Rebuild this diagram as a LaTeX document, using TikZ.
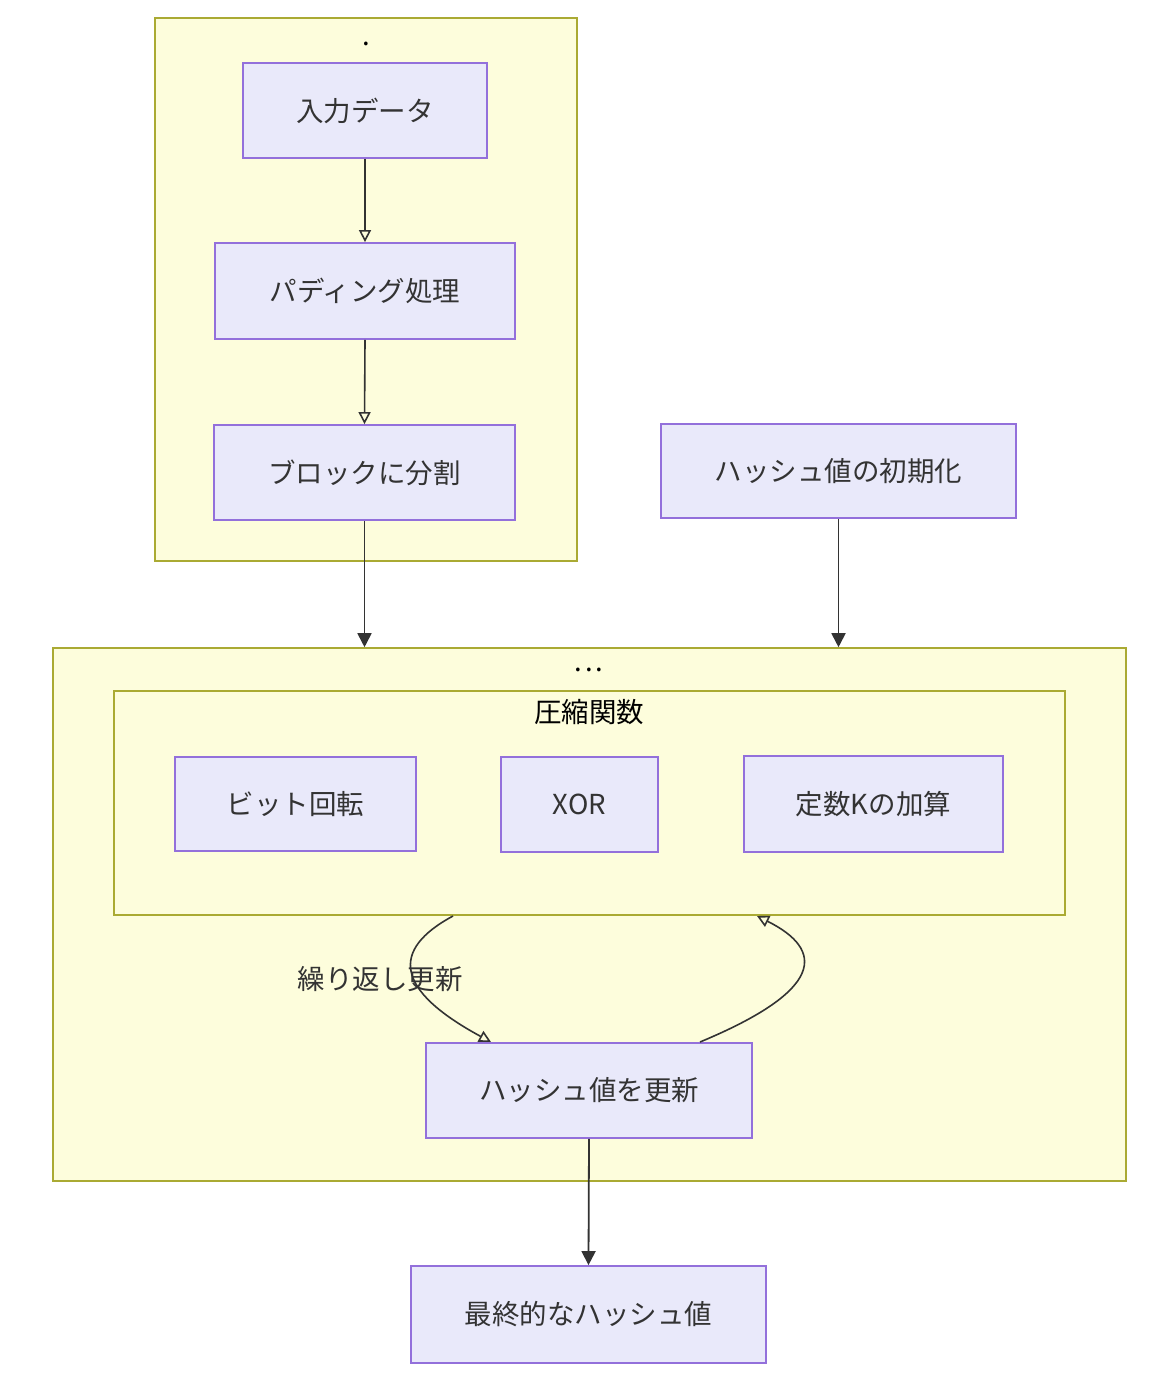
\documentclass[tikz,border=0pt]{standalone}
\usepackage{fontspec}
\setmainfont{Noto Sans CJK JP}
\usetikzlibrary{arrows.meta}
\definecolor{clfill}{HTML}{FDFDDC}
\definecolor{cldraw}{HTML}{AAAA33}
\definecolor{ndfill}{HTML}{E9E9FA}
\definecolor{nddraw}{HTML}{9370DB}
\definecolor{txt}{HTML}{333333}
\definecolor{edge}{HTML}{333333}
\tikzset{
  cluster/.style={draw=cldraw, fill=clfill, line width=1.6pt, inner sep=0pt},
  box/.style={draw=nddraw, fill=ndfill, line width=1.8pt, inner sep=0pt, text=txt,
    font=\fontsize{27.5}{32}\selectfont},
  lbl/.style={text=black, font=\fontsize{27.5}{32}\selectfont, inner sep=0pt},
  elbl/.style={text=txt, font=\fontsize{27.5}{32}\selectfont, inner sep=0pt},
  flow/.style={draw=edge, line width=1.8pt, -{Triangle[width=14pt,length=14pt]}},
  oflow/.style={draw=edge, line width=1.6pt, -{Triangle[open,width=12pt,length=12pt]}},
}
\begin{document}
\begin{tikzpicture}[x=1pt,y=-1pt]
\useasboundingbox (0,0) rectangle (1170,1392);
\fill[white] (0,0) rectangle (1170,1392);
% clusters
\node[cluster, minimum width=422pt, minimum height=543pt] (top) at (366,289.5) {};
\node[lbl] (toplbl) at (366,44) {.};
\node[cluster, minimum width=1073pt, minimum height=533pt] (big) at (589.5,914.5) {};
\node[lbl] (biglbl) at (589,670) {.\hspace{3pt}.\hspace{3pt}.};
\node[cluster, minimum width=951pt, minimum height=224pt] (comp) at (589.5,803) {};
\node[lbl] (complbl) at (589,712) {圧縮関数};
% nodes
\node[box, minimum width=244pt, minimum height=95pt] (inp) at (365,110.5) {入力データ};
\node[box, minimum width=300pt, minimum height=96pt] (pad) at (365,291) {パディング処理};
\node[box, minimum width=301pt, minimum height=95pt] (blk) at (364.5,472.5) {ブロックに分割};
\node[box, minimum width=355pt, minimum height=94pt] (init) at (838.5,471) {ハッシュ値の初期化};
\node[box, minimum width=241pt, minimum height=94pt] (rot) at (295.5,804) {ビット回転};
\node[box, minimum width=157pt, minimum height=95pt] (xor) at (579.5,804.5) {XOR};
\node[box, minimum width=259pt, minimum height=96pt] (addk) at (873.5,804) {定数Kの加算};
\node[box, minimum width=326pt, minimum height=95pt] (upd) at (589,1090.5) {ハッシュ値を更新};
\node[box, minimum width=355pt, minimum height=97pt] (fin) at (588.5,1314.5) {最終的なハッシュ値};
% edges
\draw[oflow] (inp.south) -- (pad.north);
\draw[oflow] (pad.south) -- (blk.north);
\draw[flow] (blk.south) -- (blk.south |- big.north);
\draw[flow] (init.south) -- (init.south |- big.north);
\coordinate (c1) at (453,916);
\coordinate (c2) at (491,1042);
\coordinate (c3) at (700,1042);
\coordinate (c4) at (757,916);
\draw[oflow] (c1) .. controls (390,950) and (395,990) .. (c2);
\node[elbl] (rep) at (380,979) {繰り返し更新};
\draw[oflow] (c3) .. controls (825,990) and (825,950) .. (c4);
\draw[flow] (upd.south) -- (fin.north);
\end{tikzpicture}
\end{document}
